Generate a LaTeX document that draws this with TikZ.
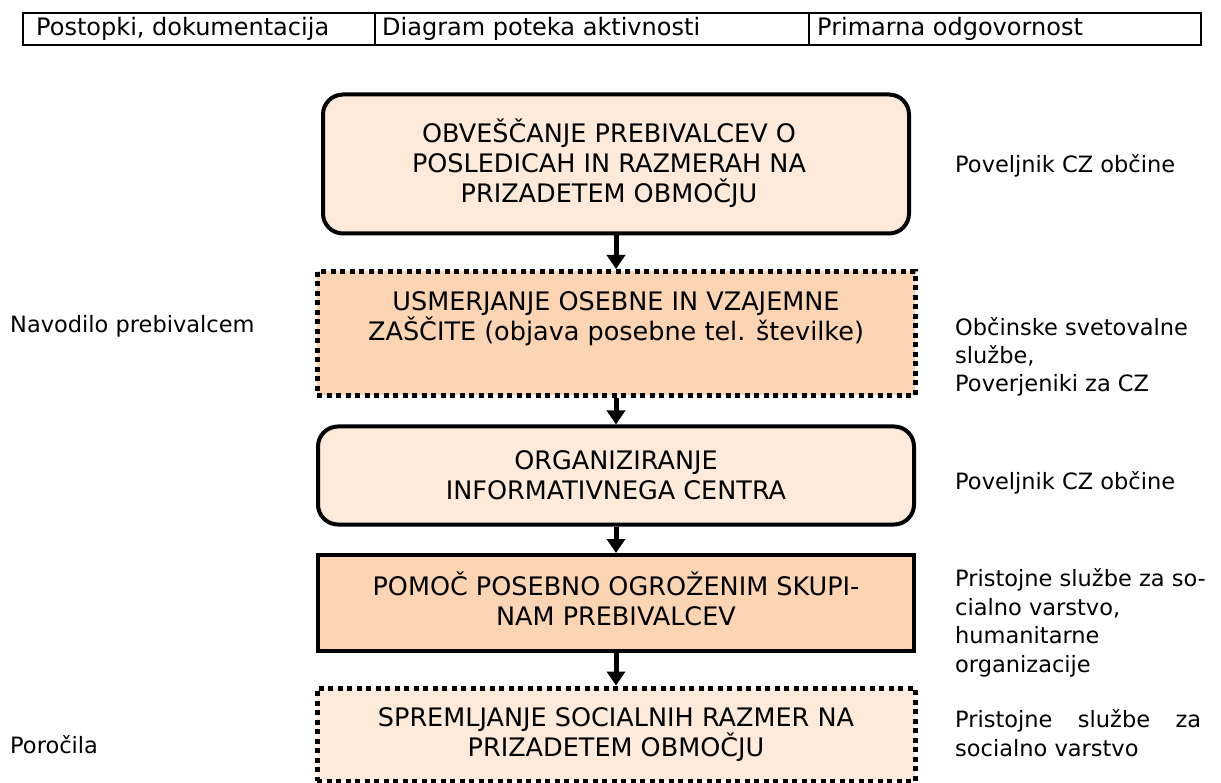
\documentclass[tikz,border=0pt]{standalone}
\usepackage{fontspec}
\setmainfont{DejaVu Sans}
\usetikzlibrary{arrows.meta}
\definecolor{light}{RGB}{253,234,218}
\definecolor{peach}{RGB}{251,212,180}
\begin{document}
\begin{tikzpicture}[x=1pt,y=-1pt,
  every node/.style={font=\fontsize{22.5}{28.5}\selectfont, inner sep=0pt},
  htxt/.style={font=\fontsize{24}{30}\selectfont, anchor=base west},
  btxt/.style={font=\fontsize{25.5}{30}\selectfont, align=center, anchor=base},
  hdr/.style={draw, line width=2pt, anchor=north west, minimum height=32pt},
  rbox/.style={draw, line width=4pt, rounded corners=20pt, fill=light},
  dbox/.style={draw, line width=5pt, dash pattern=on 5pt off 4.5pt},
  sbox/.style={draw, line width=4pt, fill=peach},
  lbl/.style={anchor=base west, align=left},
  flow/.style={line width=5pt, -{Triangle[width=18pt,length=14pt]}}
]
\useasboundingbox (0,0) rectangle (1221,783);
% header
\node[hdr, minimum width=352pt] (h1) at (22,12) {};
\node[hdr, minimum width=434pt] (h2) at (374,12) {};
\node[hdr, minimum width=392pt] (h3) at (808,12) {};
\node[htxt] (t1) at (36,36) {Postopki, dokumentacija};
\node[htxt] (t2) at (382,36) {Diagram poteka aktivnosti};
\node[htxt] (t3) at (817,36) {Primarna odgovornost};
% boxes
\node[rbox, minimum width=586pt, minimum height=139pt] (b1) at (616,164) {};
\node[btxt] (b1t) at (609,203) {OBVEŠČANJE PREBIVALCEV O\\POSLEDICAH IN RAZMERAH NA\\PRIZADETEM OBMOČJU};
\node[dbox, fill=peach, minimum width=598pt, minimum height=124pt] (b2) at (616,333.5) {};
\node[btxt] (b2t) at (616,341) {USMERJANJE OSEBNE IN VZAJEMNE\\ZAŠČITE (objava posebne tel. številke)};
\node[rbox, minimum width=596pt, minimum height=98pt] (b3) at (616,475.5) {};
\node[btxt] (b3t) at (616,499) {ORGANIZIRANJE\\INFORMATIVNEGA CENTRA};
\node[sbox, minimum width=596pt, minimum height=96pt] (b4) at (616,603) {};
\node[btxt] (b4t) at (616,625) {POMOČ POSEBNO OGROŽENIM SKUPI-\\NAM PREBIVALCEV};
\node[dbox, fill=light, minimum width=598pt, minimum height=93pt] (b5) at (616,734.5) {};
\node[btxt] (b5t) at (616,756) {SPREMLJANJE SOCIALNIH RAZMER NA\\PRIZADETEM OBMOČJU};
% arrows
\draw[flow] (b1.south) -- (b2.north);
\draw[flow] (b2.south) -- (b3.north);
\draw[flow] (b3.south) -- (b4.north);
\draw[flow] (b4.south) -- (b5.north);
% left labels
\node[lbl] (l1) at (10,333) {Navodilo prebivalcem};
\node[lbl] (l2) at (10,753) {Poročila};
% right labels
\node[lbl] (r1) at (955,173) {Poveljnik CZ občine};
\node[lbl] (r2) at (955,392) {Občinske svetovalne\\službe,\\Poverjeniki za CZ};
\node[lbl] (r3) at (955,489) {Poveljnik CZ občine};
\node[lbl] (r4) at (955,672) {Pristojne službe za so-\\cialno varstvo,\\humanitarne\\organizacije};
\node[lbl] (r5) at (955,756) {\makebox[246pt][s]{Pristojne\hfill službe\hfill za}\\socialno varstvo};
\end{tikzpicture}
\end{document}
